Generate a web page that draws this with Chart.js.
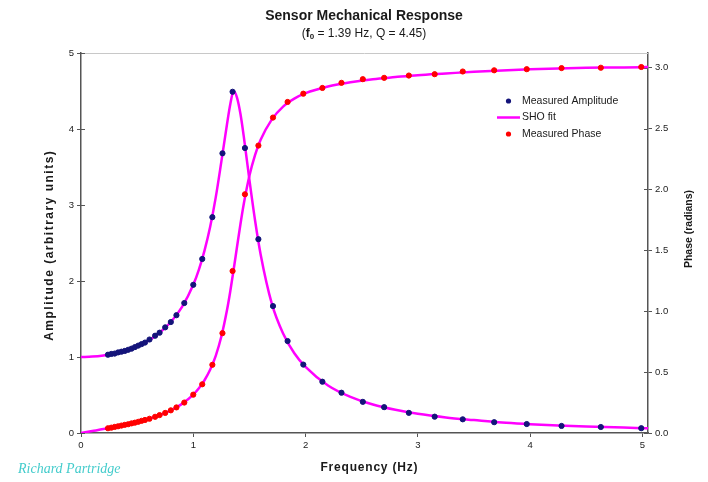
<!DOCTYPE html>
<html>
<head>
<meta charset="utf-8">
<title>Sensor Mechanical Response</title>
<script src="https://cdn.jsdelivr.net/npm/chart.js@4.4.1/dist/chart.umd.min.js"></script>
<style>
  html, body { margin: 0; padding: 0; background: #fff; }
  #wrap { width: 708px; height: 482px; }
</style>
</head>
<body>
<div id="wrap"><canvas id="mainChart" width="708" height="482"></canvas></div>
<script>
// --- Measured points (frequency in Hz) ---
const measFreq = [0.24, 0.27, 0.30, 0.33, 0.36, 0.39, 0.42, 0.45, 0.48, 0.51, 0.54, 0.57, 0.61, 0.66, 0.70, 0.75, 0.80, 0.85, 0.92, 1.00,
  1.08, 1.17, 1.26, 1.35, 1.46, 1.58, 1.71, 1.84, 1.98, 2.15, 2.32, 2.51, 2.70, 2.92, 3.15, 3.40, 3.68, 3.97, 4.28, 4.63, 4.99];
const measAmp = [1.03, 1.04, 1.045, 1.06, 1.07, 1.08, 1.095, 1.11, 1.13, 1.15, 1.17, 1.19, 1.23, 1.28, 1.32, 1.39, 1.46, 1.55, 1.71, 1.95,
  2.29, 2.84, 3.68, 4.49, 3.75, 2.55, 1.67, 1.21, 0.90, 0.675, 0.53, 0.41, 0.34, 0.265, 0.215, 0.18, 0.142, 0.118, 0.093, 0.079, 0.063];
const measPhase = [0.039, 0.044, 0.05, 0.055, 0.061, 0.067, 0.072, 0.079, 0.085, 0.092, 0.10, 0.107, 0.117, 0.133, 0.147, 0.165, 0.186, 0.21, 0.25, 0.315,
  0.40, 0.56, 0.82, 1.33, 1.96, 2.36, 2.59, 2.718, 2.786, 2.833, 2.875, 2.905, 2.916, 2.935, 2.946, 2.968, 2.978, 2.987, 2.996, 2.999, 3.005];

// --- SHO fit curve ---
const fitFreq = [0, 0.1, 0.2, 0.3, 0.4, 0.5, 0.6, 0.7, 0.8, 0.9, 1.0, 1.05, 1.1, 1.15, 1.2, 1.25, 1.3, 1.33, 1.36, 1.39, 1.42, 1.45,
  1.5, 1.55, 1.6, 1.7, 1.8, 1.9, 2.0, 2.2, 2.4, 2.6, 2.8, 3.0, 3.25, 3.5, 3.75, 4.0, 4.25, 4.5, 4.75, 5.0, 5.05];
const fitAmp = [1.0, 1.005, 1.02, 1.045, 1.085, 1.14, 1.215, 1.32, 1.46, 1.66, 1.95, 2.15, 2.40, 2.71, 3.10, 3.57, 4.06, 4.33, 4.50, 4.41, 4.20, 3.90,
  3.33, 2.80, 2.35, 1.70, 1.31, 1.05, 0.87, 0.625, 0.475, 0.375, 0.305, 0.252, 0.205, 0.17, 0.137, 0.116, 0.098, 0.086, 0.075, 0.064, 0.063];
const fitPhase = [0, 0.016, 0.032, 0.05, 0.068, 0.09, 0.115, 0.147, 0.186, 0.239, 0.315, 0.367, 0.433, 0.519, 0.634, 0.792, 1.007, 1.166, 1.344, 1.531, 1.714, 1.882,
  2.112, 2.282, 2.407, 2.575, 2.68, 2.745, 2.79, 2.845, 2.88, 2.905, 2.922, 2.938, 2.952, 2.966, 2.977, 2.986, 2.993, 2.998, 3.001, 3.004, 3.005];

// --- Tick values ---
const freqTicks = [0, 1, 2, 3, 4, 5];
const ampTicks = [0, 1, 2, 3, 4, 5];
const phaseTicks = [0, 0.5, 1.0, 1.5, 2.0, 2.5, 3.0];

const SANS = '"Liberation Sans", Arial, sans-serif';
Chart.defaults.font.family = SANS;

function toPoints(xs, ys) {
  return xs.map((x, i) => ({ x: x, y: ys[i] }));
}

function setTicks(values) {
  return function (scale) {
    scale.ticks = values.map((v) => ({ value: v }));
  };
}

// -- draws a rotated / spaced label --
function drawLabel(ctx, text, x, y, font, spacing, angle) {
  ctx.save();
  ctx.translate(x, y);
  if (angle) ctx.rotate(angle);
  ctx.font = font;
  ctx.letterSpacing = spacing + "px";
  ctx.textAlign = "center";
  ctx.textBaseline = "middle";
  ctx.fillText(text, spacing / 2, 0);
  ctx.restore();
}

// -- frame, titles, legend and signature --
const decorPlugin = {
  id: "decor",
  beforeDatasetsDraw(chart) {
    const { ctx, chartArea: a } = chart;
    ctx.save();
    ctx.strokeStyle = "#c8c8c8";
    ctx.lineWidth = 1;
    ctx.beginPath();
    ctx.moveTo(a.left, a.top + 0.5);
    ctx.lineTo(a.right, a.top + 0.5);
    ctx.stroke();

    // inner half of the tick marks, so they cross the axis lines
    ctx.strokeStyle = "#555";
    ctx.beginPath();
    const yL = chart.scales.y, yR = chart.scales.y1, xs = chart.scales.x;
    yL.ticks.forEach((t) => {
      const p = Math.round(yL.getPixelForValue(t.value)) + 0.5;
      ctx.moveTo(a.left, p); ctx.lineTo(a.left + 4, p);
    });
    yR.ticks.forEach((t) => {
      const p = Math.round(yR.getPixelForValue(t.value)) + 0.5;
      ctx.moveTo(a.right - 4, p); ctx.lineTo(a.right, p);
    });
    ctx.stroke();
    ctx.restore();
  },
  afterDraw(chart) {
    const ctx = chart.ctx;
    const a = chart.chartArea;
    ctx.save();
    ctx.fillStyle = "#1a1a1a";
    ctx.textBaseline = "middle";

    // title
    ctx.textAlign = "center";
    ctx.font = "bold 14px " + SANS;
    ctx.fillText("Sensor Mechanical Response", 364, 16);

    // subtitle with subscript
    const parts = [
      { t: "(", f: "12px " + SANS, dy: 0 },
      { t: "f", f: "bold 12px " + SANS, dy: 0 },
      { t: "0", f: "bold 8px " + SANS, dy: 3 },
      { t: " = 1.39 Hz, Q = 4.45)", f: "12px " + SANS, dy: 0 },
    ];
    let total = 0;
    parts.forEach((p) => {
      ctx.font = p.f;
      p.w = ctx.measureText(p.t).width;
      total += p.w;
    });
    let x = 364 - total / 2;
    ctx.textAlign = "left";
    parts.forEach((p) => {
      ctx.font = p.f;
      ctx.fillText(p.t, x, 34 + p.dy);
      x += p.w;
    });

    // axis titles
    drawLabel(ctx, "Frequency (Hz)", 369, 468, "bold 12px " + SANS, 0.8, 0);
    drawLabel(ctx, "Amplitude (arbitrary units)", 50, 246, "bold 12px " + SANS, 1.5, -Math.PI / 2);
    drawLabel(ctx, "Phase (radians)", 689, 229, "bold 10.5px " + SANS, 0, -Math.PI / 2);

    // legend
    const ds = chart.data.datasets;
    const rows = [ds[0], ds[1], ds[2]];
    ctx.font = "10.5px " + SANS;
    ctx.textAlign = "left";
    rows.forEach((d, i) => {
      const y = 101 + i * 16.5;
      if (d.showLine) {
        ctx.strokeStyle = d.borderColor;
        ctx.lineWidth = d.borderWidth;
        ctx.beginPath();
        ctx.moveTo(497, y);
        ctx.lineTo(520, y);
        ctx.stroke();
      } else {
        ctx.fillStyle = d.backgroundColor;
        ctx.beginPath();
        ctx.arc(508.5, y, 2.6, 0, Math.PI * 2);
        ctx.fill();
      }
      ctx.fillStyle = "#1a1a1a";
      ctx.fillText(d.label, 522, y);
    });

    // signature
    ctx.fillStyle = "#44cccc";
    ctx.font = 'italic 14px "Liberation Serif", serif';
    ctx.fillText("Richard Partridge", 18, 469);
    ctx.restore();
  },
};

const ctx = document.getElementById("mainChart").getContext("2d");
const chart = new Chart(ctx, {
  type: "scatter",
  data: {
    datasets: [
      {
        label: "Measured Amplitude",
        data: toPoints(measFreq, measAmp),
        yAxisID: "y",
        backgroundColor: "#14147a",
        borderColor: "#14147a",
        pointRadius: 2.6,
        order: 1,
      },
      {
        label: "SHO fit",
        data: toPoints(fitFreq, fitAmp),
        yAxisID: "y",
        showLine: true,
        borderColor: "#ff00ff",
        borderWidth: 2.5,
        pointRadius: 0,
        cubicInterpolationMode: "monotone",
        order: 2,
      },
      {
        label: "Measured Phase",
        data: toPoints(measFreq, measPhase),
        yAxisID: "y1",
        backgroundColor: "#ff0000",
        borderColor: "#ff0000",
        pointRadius: 2.6,
        order: 1,
      },
      {
        label: "SHO fit (phase)",
        data: toPoints(fitFreq, fitPhase),
        yAxisID: "y1",
        showLine: true,
        borderColor: "#ff00ff",
        borderWidth: 2.5,
        pointRadius: 0,
        cubicInterpolationMode: "monotone",
        order: 2,
      },
    ],
  },
  options: {
    responsive: false,
    animation: false,
    devicePixelRatio: 1,
    layout: { padding: { top: 53, left: 0, right: 0, bottom: 0 } },
    plugins: {
      legend: { display: false },
      title: { display: false },
      tooltip: { enabled: false },
    },
    scales: {
      x: {
        type: "linear",
        position: "bottom",
        min: 0,
        max: 5.05,
        afterBuildTicks: setTicks(freqTicks),
        afterFit: (s) => { s.height = 49; },
        ticks: { color: "#222", font: { size: 9.5 }, padding: 3 },
        grid: { drawOnChartArea: false, tickLength: 4, color: "#555" },
        border: { color: "#555", width: 1.5 },
      },
      y: {
        type: "linear",
        position: "left",
        min: 0,
        max: 5,
        afterBuildTicks: setTicks(ampTicks),
        afterFit: (s) => { s.width = 81; },
        ticks: { color: "#222", font: { size: 9.5 }, padding: 3 },
        grid: { drawOnChartArea: false, tickLength: 4, color: "#555" },
        border: { color: "#555", width: 1.5 },
      },
      y1: {
        type: "linear",
        position: "right",
        min: 0,
        max: 3.12,
        afterBuildTicks: setTicks(phaseTicks),
        afterFit: (s) => { s.width = 60; },
        ticks: {
          color: "#222",
          font: { size: 9.5 },
          padding: 3,
          callback: (v) => v.toFixed(1),
        },
        grid: { drawOnChartArea: false, tickLength: 4, color: "#555" },
        border: { color: "#555", width: 1.5 },
      },
    },
  },
  plugins: [decorPlugin],
});
</script>
</body>
</html>
